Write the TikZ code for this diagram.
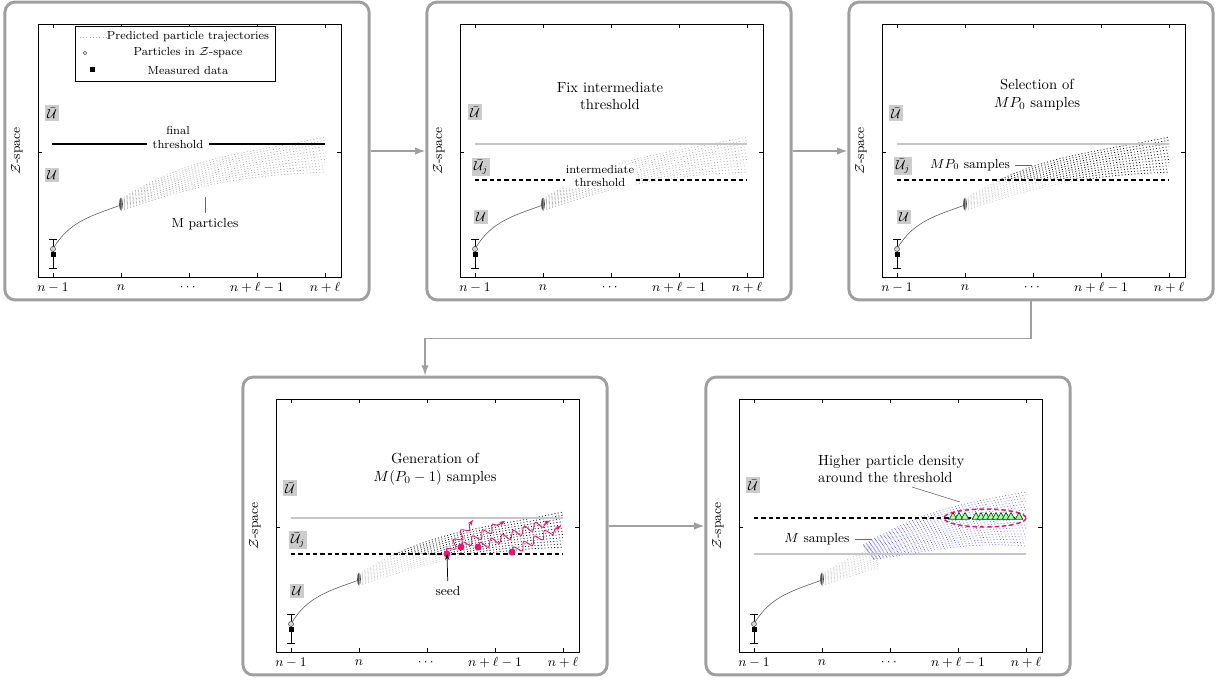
\documentclass[tikz,border=0pt]{standalone}
\usepackage{amsmath,amssymb}
\usepackage{xcolor}
\usetikzlibrary{arrows.meta,decorations.pathmorphing,shapes.geometric}
\definecolor{seedred}{RGB}{235,20,110}

\begin{document}
\begin{tikzpicture}[x=0.024cm,y=-0.024cm,
  font=\small,
  frame/.style={draw=gray!75,line width=2pt,rounded corners=7pt,
                minimum width=8.74cm,minimum height=7.15cm},
  ubox/.style={fill=gray!40,inner sep=1.5pt,font=\small},
  traj/.style={gray!65,line width=0.45pt,dash pattern=on 0.7pt off 1.5pt},
  lowtraj/.style={gray!40,line width=0.45pt,dash pattern=on 0.7pt off 1.5pt},
  seltraj/.style={black,line width=0.5pt,dash pattern=on 0.6pt off 1.6pt},
  newtraj/.style={blue!60,line width=0.5pt,dash pattern=on 0.6pt off 1.6pt},
  thr/.style={black,line width=0.9pt,dash pattern=on 3pt off 2pt},
  oldthr/.style={gray!45,line width=0.7pt},
  conn/.style={gray!75,line width=1pt,-{Latex[length=7pt,width=5pt]}},
  lbl/.style={fill=white,inner xsep=1pt,inner ysep=0.5pt,align=center,font=\footnotesize},
  title/.style={align=center,font=\normalsize},
  pin/.style={gray!80!black,line width=0.4pt},
  tri/.style={regular polygon,regular polygon sides=3,draw=green!40!black,
              fill=green!30,inner sep=0pt,minimum size=6pt,line width=0.5pt}
]
\useasboundingbox (0,0) rectangle (1219,680);

% frames, axes and measured data of all panels
\foreach \ox/\oy/\i in {38/24/1,460/24/2,882/24/3,276/399/4,739/399/5}{
  \begin{scope}[shift={(\ox,\oy)}]
    \node[frame] (p\i) at (149,127) {};
    \draw[line width=0.6pt] (0,0) rectangle (303,253);
    \foreach \t/\l in {15/n-1,83/n,151/\cdots,219/n+\ell-1,287/n+\ell}{
      \draw[line width=0.4pt] (\t,0) -- (\t,4) (\t,253) -- (\t,249);
      \node (tk\i\t) at (\t,264) {$\l$};
    }
    \draw[line width=0.4pt] (0,128) -- (4,128) (303,128) -- (299,128);
    \node[rotate=90] (zs\i) at (-21,127) {$\mathcal{Z}$-space};
    \draw[line width=0.6pt] (15,215) -- (15,244) (11,215) -- (19,215) (11,244) -- (19,244);
    \fill (12.5,227.5) rectangle (17.5,232.5);
    \draw[gray!70!black,line width=0.4pt] (15,225) to[out=60,in=200] (83,181);
    \draw[gray!60!black,fill=gray!30,line width=0.4pt] (15,225) circle (2.5);
    \fill[gray!60!black] (83,180) ellipse (1.8 and 6.5);
  \end{scope}
}

% panel 1
\begin{scope}[shift={(38,24)}]
  \foreach \k [evaluate=\k as \a using 32-1.2*\k, evaluate=\k as \b using 192-0.9*\k] in {0,...,11}
    \draw[traj] (83,{175+1.05*\k}) to[out=\a,in=\b] (287,{113+3.2*\k});
  \draw[line width=0.6pt,fill=white] (37,2) rectangle (237,57);
  \draw[traj] (42,13) -- (68,13);
  \node[font=\footnotesize] (lg1) at (150,13) {Predicted particle trajectories};
  \draw[gray!60!black,line width=0.4pt] (47,29) circle (1.8);
  \node[font=\footnotesize] (lg2) at (150,29) {Particles in $\mathcal{Z}$-space};
  \fill (51.5,43.5) rectangle (56.5,48.5);
  \node[font=\footnotesize] (lg3) at (150,46) {Measured data};
  \draw[line width=0.9pt] (14,120) -- (287,120);
  \node[lbl,inner xsep=4pt] (fin) at (140,113) {final\\threshold};
  \node[ubox] (ub1) at (14,89) {$\bar{\mathcal{U}}$};
  \node[ubox] (u1) at (14,151) {$\mathcal{U}$};
  \node (mp) at (167,200) {M particles};
  \coordinate (mpa) at (167,173);
  \draw[pin] (mpa) -- (mp);
\end{scope}

% panel 2
\begin{scope}[shift={(460,24)}]
  \foreach \k [evaluate=\k as \a using 32-1.2*\k, evaluate=\k as \b using 192-0.9*\k] in {0,...,11}
    \draw[traj] (83,{175+1.05*\k}) to[out=\a,in=\b] (287,{113+3.2*\k});
  \node[title] (t2) at (150,72) {Fix intermediate\\threshold};
  \draw[oldthr] (15,120) -- (287,120);
  \draw[thr] (15,156) -- (287,156);
  \node[lbl] (imt) at (140,152) {intermediate\\threshold};
  \node[ubox] (ub2) at (15,88) {$\bar{\mathcal{U}}$};
  \node[ubox] (ubj2) at (21,143) {$\bar{\mathcal{U}}_j$};
  \node[ubox] (u2) at (21,193) {$\mathcal{U}$};
\end{scope}

% panel 3
\begin{scope}[shift={(882,24)}]
  \foreach \k [evaluate=\k as \a using 32-1.2*\k, evaluate=\k as \b using 192-0.9*\k] in {0,...,11}
    \draw[lowtraj] (83,{175+1.05*\k}) to[out=\a,in=\b] (287,{113+3.2*\k});
  \begin{scope}
    \clip (0,0) rectangle (303,156);
    \foreach \k [evaluate=\k as \a using 32-1.2*\k, evaluate=\k as \b using 192-0.9*\k] in {0,...,11}
      \draw[seltraj] (83,{175+1.05*\k}) to[out=\a,in=\b] (287,{113+3.2*\k});
  \end{scope}
  \node[title] (t3) at (155,71) {Selection of\\$MP_0$ samples};
  \draw[oldthr] (15,120) -- (287,120);
  \draw[thr] (15,156) -- (287,156);
  \node[ubox] (ub3) at (14,89) {$\bar{\mathcal{U}}$};
  \node[ubox] (ubj3) at (21,142) {$\bar{\mathcal{U}}_j$};
  \node[ubox] (u3) at (22,193) {$\mathcal{U}$};
  \node (mps) at (88,141) {$MP_0$ samples};
  \coordinate (mpb) at (150,141);
  \draw[pin] (mps) -- (mpb);
\end{scope}

% panel 4
\begin{scope}[shift={(276,399)}]
  \foreach \k [evaluate=\k as \a using 32-1.2*\k, evaluate=\k as \b using 192-0.9*\k] in {0,...,11}
    \draw[lowtraj] (83,{175+1.05*\k}) to[out=\a,in=\b] (287,{113+3.2*\k});
  \begin{scope}
    \clip (0,0) rectangle (303,155);
    \foreach \k [evaluate=\k as \a using 32-1.2*\k, evaluate=\k as \b using 192-0.9*\k] in {0,...,11}
      \draw[seltraj] (83,{175+1.05*\k}) to[out=\a,in=\b] (287,{113+3.2*\k});
  \end{scope}
  \node[title] (t4) at (159,70) {Generation of\\$M(P_0-1)$ samples};
  \draw[oldthr] (15,119) -- (287,119);
  \draw[thr] (15,155) -- (287,155);
  \node[ubox] (ub4) at (14,89) {$\bar{\mathcal{U}}$};
  \node[ubox] (ubj4) at (22,141) {$\bar{\mathcal{U}}_j$};
  \node[ubox] (u4) at (21,192) {$\mathcal{U}$};
  \foreach \sx/\sy/\ex/\ey/\j in {171/155/197/121/1,185/148/229/122/2,202/148/274/122/3,236/153/285/127/4}{
    \coordinate (s\j) at (\sx,\sy);
    \coordinate (e\j) at (\ex,\ey);
    \draw[seedred,line width=0.6pt,decorate,
          decoration={snake,amplitude=2.6pt,segment length=8pt,post length=3pt},
          -{Stealth[length=4pt]}] (s\j) -- (e\j);
    \fill[seedred] (s\j) circle (3.5);
  }
  \node (seed) at (172,192) {seed};
  \draw[-{Stealth[length=4pt]},line width=0.5pt] (seed) -- (s1);
\end{scope}

% panel 5
\begin{scope}[shift={(739,399)}]
  \begin{scope}
    \clip (0,0) rectangle (140,253);
    \foreach \k [evaluate=\k as \a using 32-1.2*\k, evaluate=\k as \b using 192-0.9*\k] in {0,...,11}
      \draw[lowtraj] (83,{175+1.05*\k}) to[out=\a,in=\b] (287,{113+3.2*\k});
  \end{scope}
  \foreach \k [evaluate=\k as \a using 30-1.2*\k, evaluate=\k as \b using 190-0.8*\k] in {0,...,18}
    \draw[newtraj] ({124+0.6*\k},{146+0.8*\k}) to[out=\a,in=\b] (287,{93+3*\k});
  \draw[oldthr] (15,155) -- (287,155);
  \draw[thr] (15,119) -- (287,119);
  \draw[seedred,line width=1pt,dash pattern=on 3pt off 2pt] (246,119) ellipse (41 and 9);
  \foreach \t in {214,220,226,237,242,247,252,257,262,267,272,280}
    \node[tri] (tr\t) at (\t,118) {};
  \node[title,align=left,anchor=west] (t5) at (74,70) {Higher particle density\\around the threshold};
  \coordinate (hpa) at (173,88);
  \coordinate (hpb) at (221,103);
  \draw[pin] (hpa) -- (hpb);
  \node[ubox] (ub5) at (14,86) {$\bar{\mathcal{U}}$};
  \node (ms) at (78,140) {$M$ samples};
  \coordinate (msb) at (133,140);
  \draw[pin] (ms) -- (msb);
\end{scope}

% flow between panels
\draw[conn] (p1.east) -- (p2.west);
\draw[conn] (p2.east) -- (p3.west);
\draw[conn] (p3.south) -- ++(0,37) -| (p4.north);
\draw[conn] (p4.east) -- (p5.west);
\end{tikzpicture}
\end{document}
